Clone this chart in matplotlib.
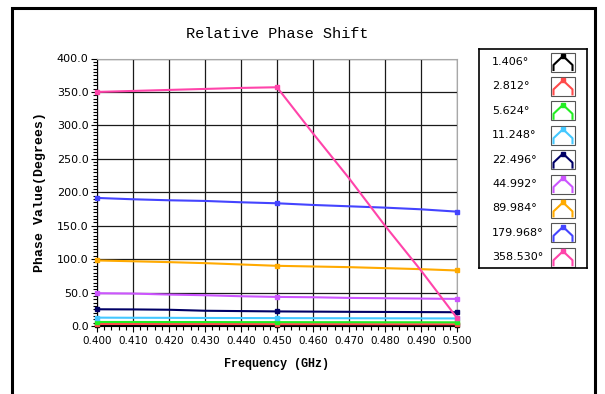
import matplotlib
matplotlib.use("Agg")
import matplotlib.pyplot as plt
from matplotlib.patches import Rectangle
from matplotlib.ticker import MultipleLocator, FormatStrFormatter

# data
freq = [0.400, 0.410, 0.420, 0.430, 0.440, 0.450, 0.460, 0.470, 0.480, 0.490, 0.500]
labels = ["1.406°", "2.812°", "5.624°", "11.248°", "22.496°",
          "44.992°", "89.984°", "179.968°", "358.530°"]
colors = ["#000000", "#ff4a4a", "#22ee22", "#44c8ff", "#000066",
          "#cc55ff", "#ffaa00", "#4444ff", "#ff44aa"]

phase_1406 = [1.5, 1.5, 1.4, 1.4, 1.4, 1.4, 1.4, 1.3, 1.3, 1.3, 1.3]
phase_2812 = [3.0, 3.0, 2.9, 2.9, 2.9, 2.8, 2.8, 2.8, 2.7, 2.7, 2.7]
phase_5624 = [6.0, 6.0, 5.9, 5.9, 5.8, 5.8, 5.7, 5.7, 5.6, 5.6, 5.5]
phase_11248 = [12.5, 12.3, 12.2, 12.0, 11.9, 11.8, 11.7, 11.6, 11.5, 11.4, 11.3]
phase_22496 = [25.0, 24.8, 24.3, 22.8, 22.3, 21.8, 21.5, 21.2, 21.0, 20.8, 20.6]
phase_44992 = [49.0, 48.5, 47.0, 46.0, 44.5, 43.5, 43.0, 42.0, 41.5, 41.0, 40.5]
phase_89984 = [98.0, 96.8, 95.5, 94.0, 92.0, 90.0, 89.0, 88.0, 86.5, 85.0, 83.0]
phase_179968 = [191.5, 189.5, 188.0, 187.0, 185.0, 183.5, 181.0, 179.0, 177.0, 174.5, 171.0]
phase_358530 = [350.0, 351.5, 353.0, 354.5, 356.0, 357.0, 288.0, 221.0, 150.0, 83.0, 12.0]

series = [phase_1406, phase_2812, phase_5624, phase_11248, phase_22496,
          phase_44992, phase_89984, phase_179968, phase_358530]

W, H = 605, 394
fig = plt.figure(figsize=(W / 100, H / 100), dpi=100)
fig.patch.set_facecolor("white")

tick_font = ["Liberation Sans Narrow", "DejaVu Sans"]
mono = ["Liberation Mono", "DejaVu Sans Mono"]

# outer frame (bottom edge runs off the image)
fig.add_artist(Rectangle((12 / W, -0.1), (595 - 12) / W, 1 - 8 / H + 0.1,
                         transform=fig.transFigure, fill=False,
                         edgecolor="black", lw=2.2))

ax = fig.add_axes([97 / W, 68 / H, 360 / W, 267.5 / H])
for s, c in zip(series, colors):
    ax.plot(freq, s, color=c, lw=1.5, marker="s", markersize=3.5,
            markevery=[0, 5, 10], clip_on=False, zorder=3)

ax.set_xlim(0.400, 0.500)
ax.set_ylim(0, 400)
ax.xaxis.set_major_locator(MultipleLocator(0.01))
ax.xaxis.set_minor_locator(MultipleLocator(0.002))
ax.yaxis.set_major_locator(MultipleLocator(50))
ax.yaxis.set_minor_locator(MultipleLocator(5))
ax.xaxis.set_major_formatter(FormatStrFormatter("%.3f"))
ax.yaxis.set_major_formatter(FormatStrFormatter("%.1f"))
ax.grid(True, which="major", color="#1a1a1a", lw=0.9)
ax.set_axisbelow(True)
ax.tick_params(which="major", direction="out", length=4, width=0.8, pad=2)
ax.tick_params(which="minor", direction="out", length=3, width=0.8)
ax.tick_params(axis="x", which="major", labelsize=7.5, pad=3)
ax.tick_params(axis="y", which="major", labelsize=8)
for lab in ax.get_xticklabels() + ax.get_yticklabels():
    lab.set_family(tick_font)
for side in ["top", "right"]:
    ax.spines[side].set_color("#a8a8a8")
for side in ["left", "bottom"]:
    ax.spines[side].set_color("black")

ax.set_title("Relative Phase Shift", family=mono, fontsize=11, pad=15)
ax.set_xlabel("Frequency (GHz)", family=mono, fontweight="bold", fontsize=8.5, labelpad=9)
ax.set_ylabel("Phase Value(Degrees)", family=mono, fontweight="bold", fontsize=9.5, labelpad=8)

# legend box drawn by hand
lax = fig.add_axes([479 / W, (H - 268) / H, 108 / W, 219 / H])
lax.set_xlim(0, 108)
lax.set_ylim(219, 0)
lax.set_xticks([])
lax.set_yticks([])
for sp in lax.spines.values():
    sp.set_linewidth(1.2)
for i, (lab, c) in enumerate(zip(labels, colors)):
    cy = 13 + i * 24.4
    lax.text(13, cy, lab, family=tick_font, fontsize=8, va="center", ha="left")
    lax.add_patch(Rectangle((72, cy - 9.5), 24, 19, fill=False,
                            edgecolor="#555555", lw=0.8))
    lax.plot([74.5, 74.5, 84, 93.5, 93.5], [cy + 8, cy + 3, cy - 6, cy + 3, cy + 8],
             color=c, lw=1.5, marker="s", markersize=2.5, markevery=[2])

fig.savefig("out.png", dpi=100)
